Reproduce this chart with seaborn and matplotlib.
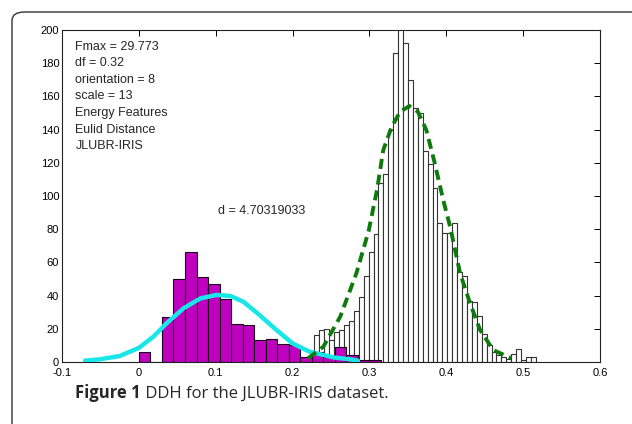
import numpy as np
import pandas as pd
import seaborn as sns
import matplotlib
matplotlib.use("Agg")
import matplotlib.pyplot as plt
from matplotlib.patches import FancyBboxPatch

# ---------------- data ----------------
# magenta histogram (impostor / between-class distances): bin width 0.015 starting at 0
mag_left = [0.000, 0.015, 0.030, 0.045, 0.060, 0.075, 0.090, 0.105, 0.120, 0.135,
            0.150, 0.165, 0.180, 0.195, 0.210, 0.225, 0.240, 0.255, 0.270, 0.285,
            0.300]
mag_counts = [6, 0, 27, 50, 66.5, 51, 47, 38, 23, 22,
              13, 14, 11, 10, 3, 6, 3, 9, 4, 1,
              1]
mag_width = 0.015

# white histogram (genuine distances): bin width 0.0064 starting at 0.2285
white_start = 0.2285
white_width = 0.0064
white_counts = [16, 19, 20, 13, 18, 19, 22, 25, 31, 39,
                52, 66, 77, 108, 113, 140, 186, 215, 192, 170,
                153, 150, 127, 119, 105, 84, 78, 78, 84, 54,
                52, 37, 36, 28, 17, 10, 6, 4, 3, 2,
                5, 8, 1, 3, 3]

# cyan fitted curve
cyan_x = [-0.070, -0.051, -0.025, 0.000, 0.019, 0.036, 0.058, 0.080, 0.101,
          0.119, 0.136, 0.157, 0.179, 0.200, 0.222, 0.253, 0.275, 0.285]
cyan_y = [0.8, 1.6, 3.6, 8.5, 15.3, 23.3, 32.3, 38.3, 40.4,
          39.8, 36.3, 28.3, 19.3, 11.2, 6.2, 2.8, 1.6, 0.8]

# green dashed fitted curve
green_x = [0.220, 0.240, 0.262, 0.283, 0.299, 0.310, 0.318, 0.329, 0.340, 0.352,
           0.363, 0.374, 0.385, 0.396, 0.405, 0.418, 0.431, 0.444, 0.461, 0.485]
green_y = [2.2, 9.2, 27.3, 53.4, 79.0, 104.0, 127.7, 141.7, 150.8, 154.2,
           150.8, 139.8, 119.7, 97.6, 81.5, 53.4, 35.3, 19.3, 7.2, 2.2]

info_lines = ["Fmax = 29.773", "df = 0.32", "orientation = 8", "scale = 13",
              "Energy Features", "Eulid Distance", "JLUBR-IRIS"]
d_label = "d = 4.70319033"
caption_bold = "Figure 1"
caption_rest = " DDH for the JLUBR-IRIS dataset."

x_ticks = [-0.1, 0, 0.1, 0.2, 0.3, 0.4, 0.5, 0.6]
x_ticklabels = ["-0.1", "0", "0.1", "0.2", "0.3", "0.4", "0.5", "0.6"]
y_ticks = [0, 20, 40, 60, 80, 100, 120, 140, 160, 180, 200]

# ---------------- build tables ----------------
mag_edges = list(mag_left) + [mag_left[-1] + mag_width]
mag_df = pd.DataFrame({"x": [l + mag_width / 2 for l in mag_left], "w": mag_counts})
white_edges = [white_start + i * white_width for i in range(len(white_counts) + 1)]
white_df = pd.DataFrame({"x": [white_start + (i + 0.5) * white_width for i in range(len(white_counts))],
                         "w": white_counts})
cyan_df = pd.DataFrame({"x": cyan_x, "y": cyan_y})
green_df = pd.DataFrame({"x": green_x, "y": green_y})

# ---------------- plot ----------------
sns.set_theme(style="white")
plt.rcParams["font.family"] = ["Liberation Sans", "DejaVu Sans"]

fig = plt.figure(figsize=(6.32, 4.24), dpi=100)
ax = fig.add_axes([62 / 632, 1 - 362 / 424, (600 - 62) / 632, (362 - 30) / 424])

sns.histplot(data=white_df, x="x", weights="w", bins=white_edges, ax=ax,
             color="white", alpha=1, edgecolor="#333333", linewidth=0.8, zorder=1)
sns.histplot(data=mag_df, x="x", weights="w", bins=mag_edges, ax=ax,
             color="#bf00bf", alpha=1, edgecolor="#1a001a", linewidth=0.8, zorder=2)
sns.lineplot(data=cyan_df, x="x", y="y", ax=ax, color="#19e6e6", linewidth=3.2,
             zorder=3, sort=True)
sns.lineplot(data=green_df, x="x", y="y", ax=ax, color="#0e7a0e", linewidth=2.8,
             zorder=4, sort=True, dashes=False)
ax.lines[-1].set_dashes([2.6, 1.5])

ax.set_xlim(-0.1, 0.6)
ax.set_ylim(0, 200)
ax.set_xticks(x_ticks)
ax.set_xticklabels(x_ticklabels)
ax.set_yticks(y_ticks)
ax.set_xlabel("")
ax.set_ylabel("")
ax.tick_params(direction="in", length=4, width=0.7, top=True, right=True,
               labelsize=8, pad=2, colors="black")
ax.tick_params(axis="x", pad=4)
for s in ax.spines.values():
    s.set_linewidth(0.8)
    s.set_color("#222222")

# info text
for i, line in enumerate(info_lines):
    ax.text(-0.0825, 190 - i * 10, line, fontsize=9, va="center", ha="left")
ax.text(0.1025, 91, d_label, fontsize=9, va="center", ha="left")

# frame with rounded corner extending past the edges
frame = FancyBboxPatch((12 / 632, -0.2), 1.2, 0.2 + (424 - 12) / 424,
                       boxstyle="round,pad=0,rounding_size=0.02",
                       transform=fig.transFigure, fill=False,
                       edgecolor="#333333", linewidth=1.0, clip_on=False)
fig.patches.append(frame)

# caption
t1 = fig.text(75 / 632, 1 - 398 / 424, caption_bold, fontsize=12, fontweight="bold",
              family=["Open Sans", "DejaVu Sans"], va="baseline", ha="left")
fig.canvas.draw()
bb = t1.get_window_extent()
fig.text(bb.x1 / fig.bbox.width, 1 - 398 / 424, caption_rest, fontsize=12,
         family=["Open Sans", "DejaVu Sans"], va="baseline", ha="left")

fig.savefig("out.png", dpi=100)
